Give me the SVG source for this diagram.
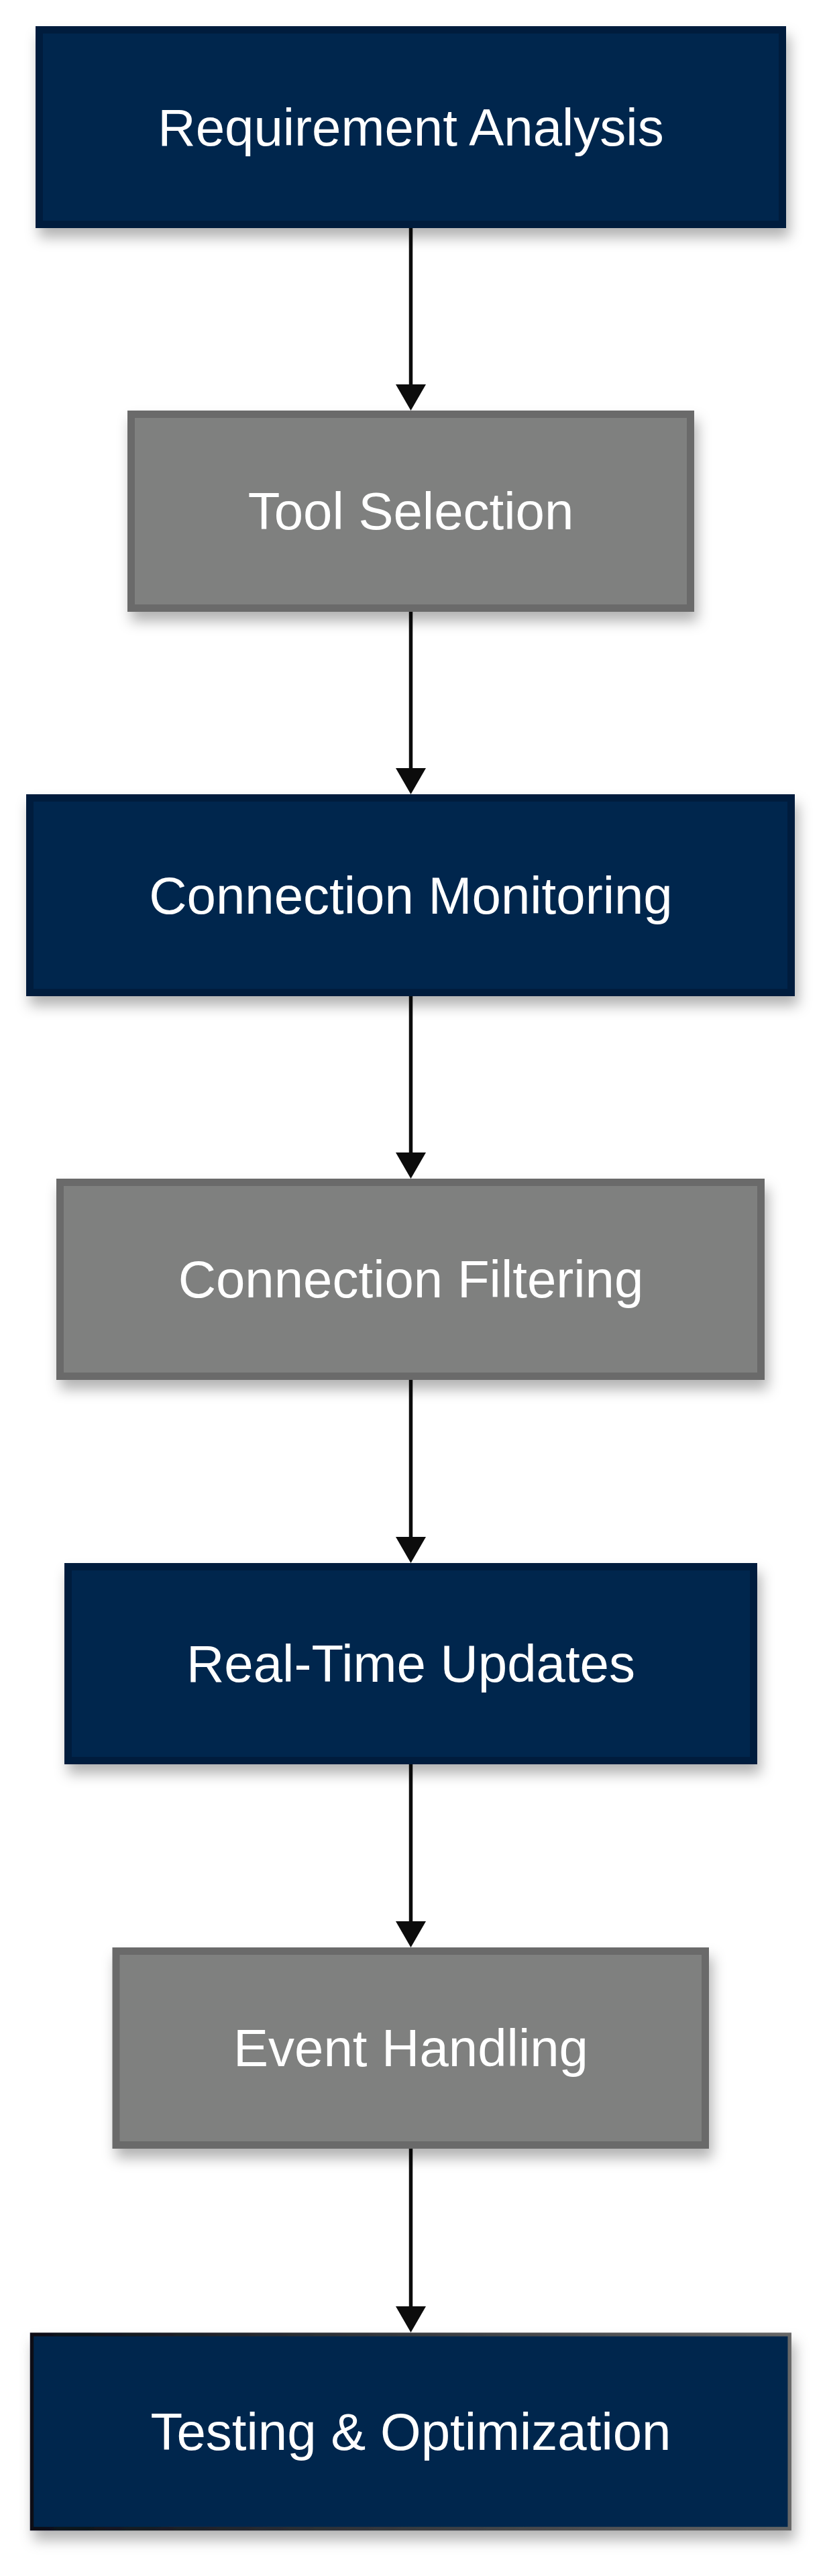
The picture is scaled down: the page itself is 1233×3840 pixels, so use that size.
<svg xmlns="http://www.w3.org/2000/svg" width="1233" height="3840" viewBox="0 0 1233 3840">
  <style>
    .navy { fill: #00284d; stroke: #001e3c; stroke-width: 11; }
    .gray { fill: #7f807f; stroke: #6b6b6b; stroke-width: 11; }
    .last { fill: #00284d; stroke: url(#lastStroke); stroke-width: 5.5; }
    .lbl { font-family: "Liberation Sans", Arial, sans-serif; font-size: 78px; fill: #ffffff; text-anchor: middle; }
    .edge { fill: none; stroke: #0c0c0c; stroke-width: 5.5; }
  </style>
  <defs>
    <filter id="shadow" x="-10%" y="-20%" width="125%" height="150%">
      <feDropShadow dx="5" dy="14" stdDeviation="10" flood-color="#000000" flood-opacity="0.3"/>
    </filter>
    <linearGradient id="lastStroke" x1="0" y1="0" x2="1" y2="0">
      <stop offset="0" stop-color="#0a0f18"/>
      <stop offset="1" stop-color="#676767"/>
    </linearGradient>
    <marker id="arrow" viewBox="0 0 39 45" refX="9" refY="22.5" markerWidth="39" markerHeight="45" markerUnits="userSpaceOnUse" orient="auto">
      <path d="M0,0 L39,22.5 L0,45 z" fill="#0c0c0c"/>
    </marker>
  </defs>
  <rect x="0" y="0" width="1233" height="3840" fill="#ffffff"/>

  <g id="connectors">
    <path class="edge" d="M612.5,340 L612.5,582" marker-end="url(#arrow)"/>
    <path class="edge" d="M612.5,912 L612.5,1154" marker-end="url(#arrow)"/>
    <path class="edge" d="M612.5,1485 L612.5,1727" marker-end="url(#arrow)"/>
    <path class="edge" d="M612.5,2057 L612.5,2300" marker-end="url(#arrow)"/>
    <path class="edge" d="M612.5,2630 L612.5,2873" marker-end="url(#arrow)"/>
    <path class="edge" d="M612.5,3203 L612.5,3447" marker-end="url(#arrow)"/>
  </g>

  <g id="node-requirement-analysis" filter="url(#shadow)">
    <rect class="navy" x="58.5" y="44.5" width="1108" height="290"/>
    <text class="lbl" x="612.5" y="216.5">Requirement Analysis</text>
  </g>
  <g id="node-tool-selection" filter="url(#shadow)">
    <rect class="gray" x="195.5" y="617.5" width="834" height="289"/>
    <text class="lbl" x="612.5" y="789">Tool Selection</text>
  </g>
  <g id="node-connection-monitoring" filter="url(#shadow)">
    <rect class="navy" x="44.5" y="1189.5" width="1135" height="290"/>
    <text class="lbl" x="612.5" y="1361.5">Connection Monitoring</text>
  </g>
  <g id="node-connection-filtering" filter="url(#shadow)">
    <rect class="gray" x="89.5" y="1762.5" width="1045" height="289"/>
    <text class="lbl" x="612.5" y="1934">Connection Filtering</text>
  </g>
  <g id="node-real-time-updates" filter="url(#shadow)">
    <rect class="navy" x="101.5" y="2335.5" width="1022" height="289"/>
    <text class="lbl" x="612.5" y="2507">Real-Time Updates</text>
  </g>
  <g id="node-event-handling" filter="url(#shadow)">
    <rect class="gray" x="173" y="2908.5" width="878.5" height="289"/>
    <text class="lbl" x="612.5" y="3080">Event Handling</text>
  </g>
  <g id="node-testing-optimization" filter="url(#shadow)">
    <rect class="last" x="47.5" y="3480" width="1129.7" height="289.5"/>
    <text class="lbl" x="612.5" y="3652">Testing &amp; Optimization</text>
  </g>
</svg>
